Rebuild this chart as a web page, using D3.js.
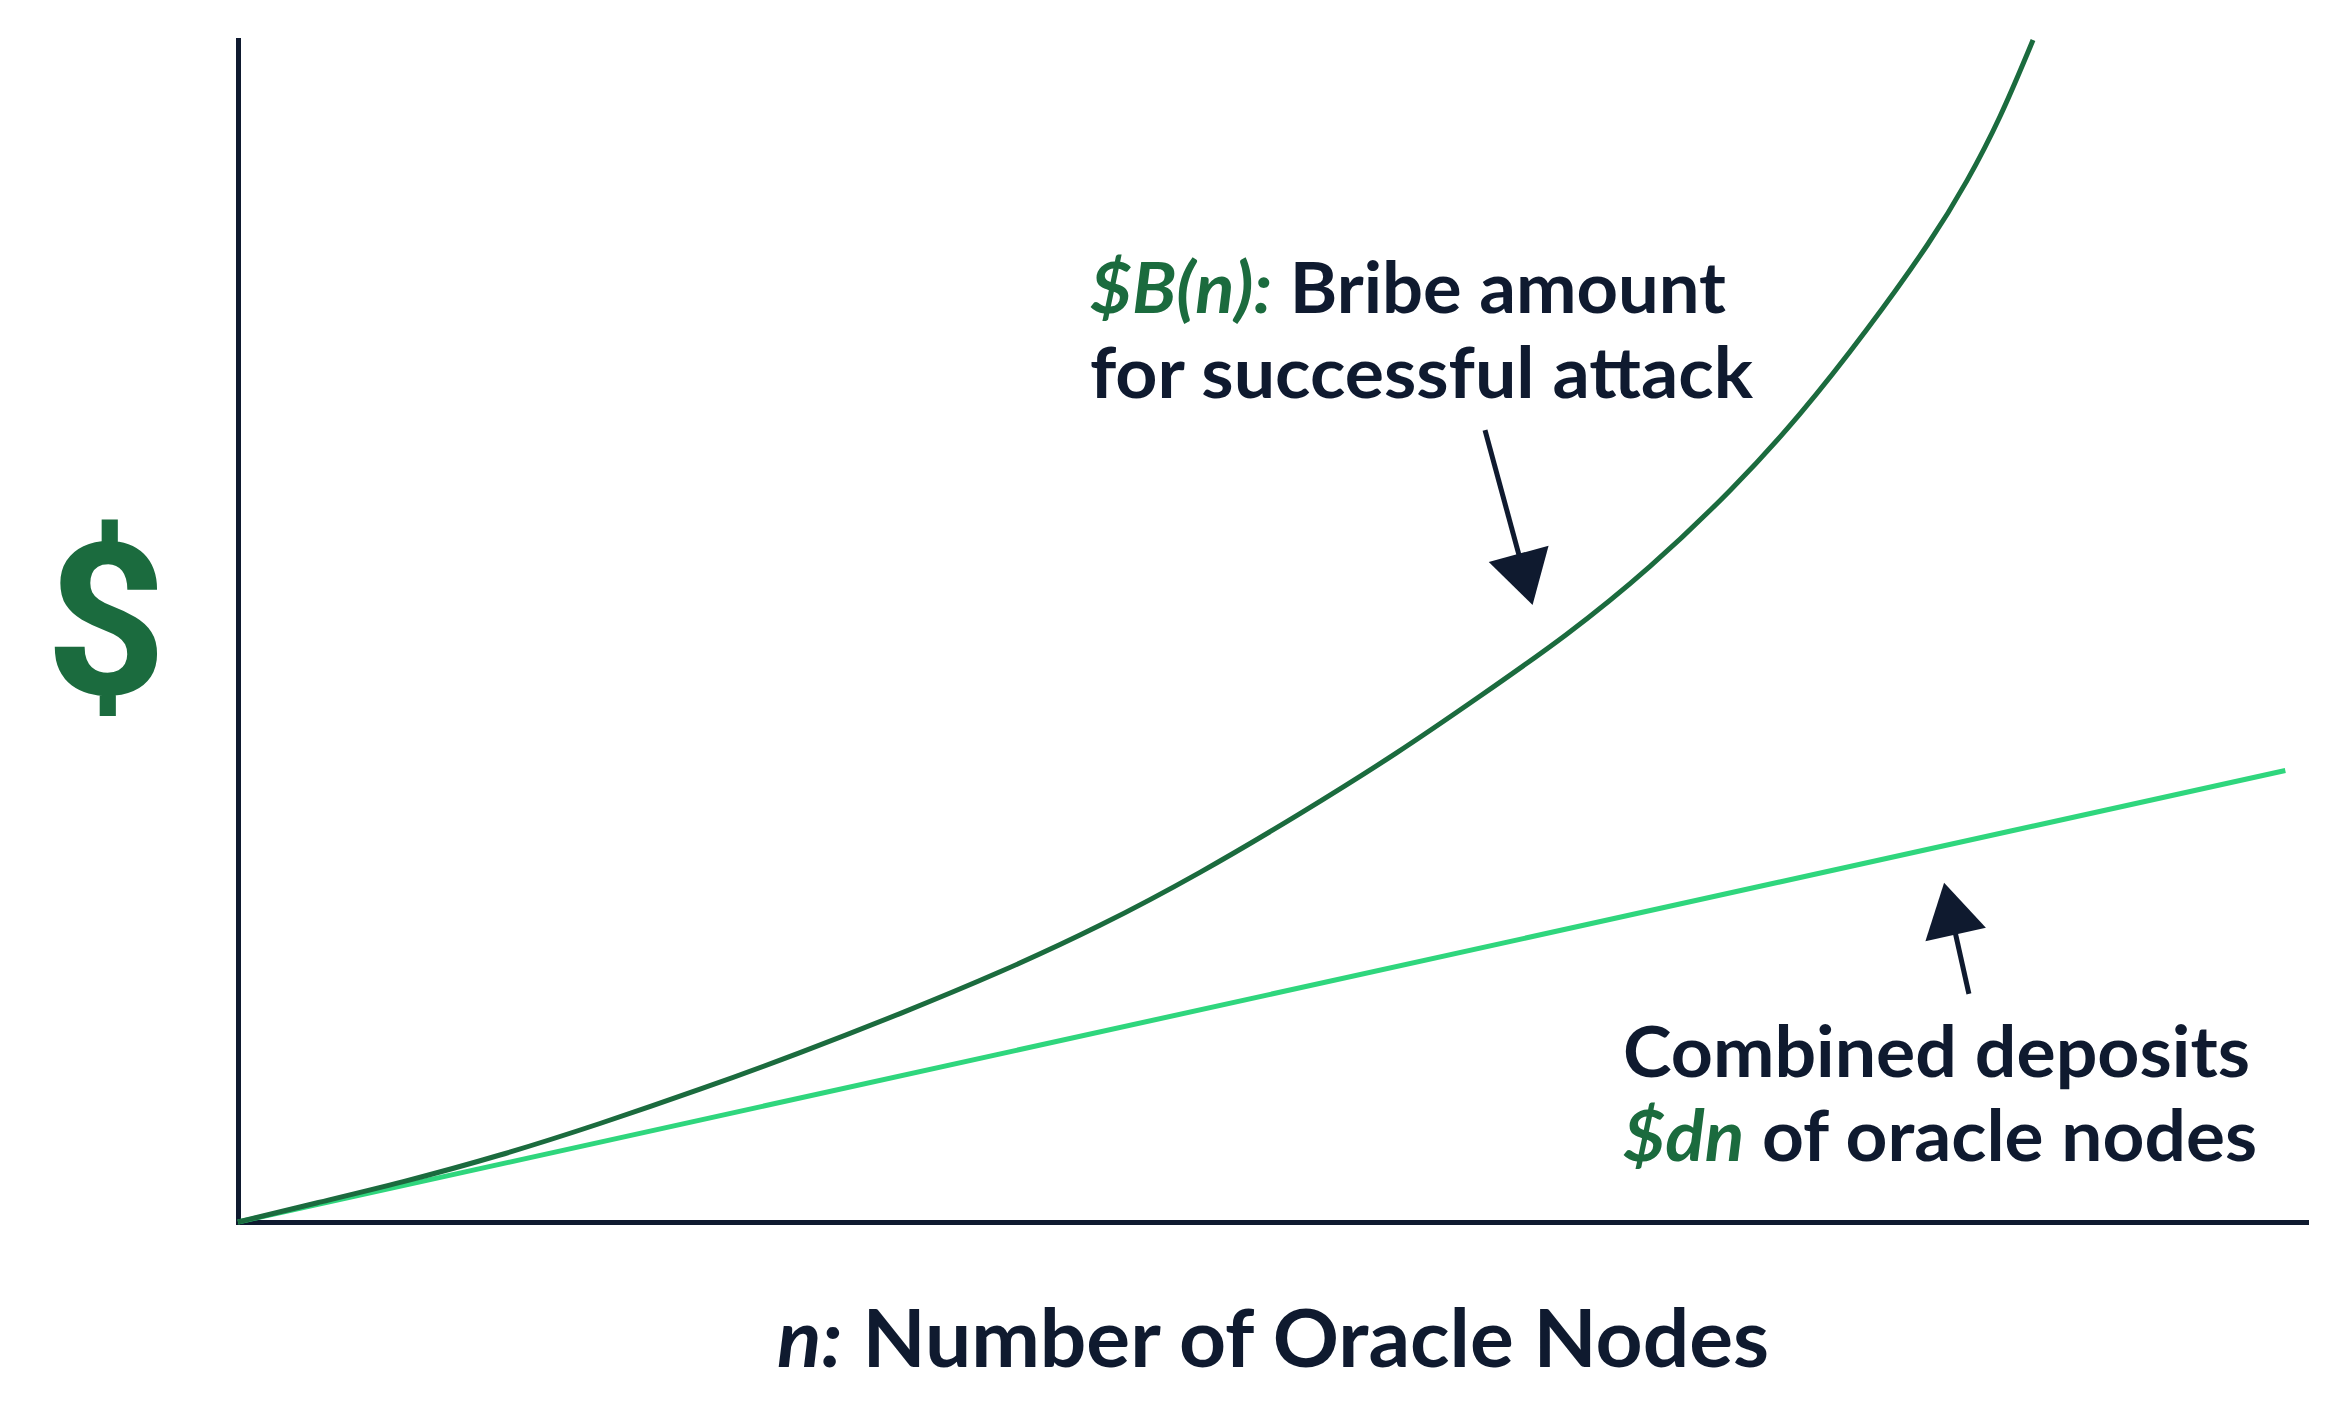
<!DOCTYPE html>
<html>
<head>
<meta charset="utf-8">
<script src="https://cdn.jsdelivr.net/npm/d3@7"></script>
<style>
  html, body { margin: 0; padding: 0; background: #ffffff; }
  svg { display: block; }
  text { font-family: "Lato", "Open Sans", sans-serif; }
</style>
</head>
<body>
<svg id="chart" width="2347" height="1425"></svg>
<script>
// ---- data (n = number of oracle nodes, values in arbitrary $ units) ----
const depositN      = [0, 99];
const depositValues = [0, 38.2];

const bribeN      = [0, 3.97, 7.83, 12.67, 17.5, 22.34, 27.18, 32.01, 36.85, 41.68, 46.52, 51.35, 56.19, 59.91, 64.26, 68.28, 72.29, 75.53, 78.77, 81.96, 83.61, 85.2, 86.8];
const bribeValues = [0, 1.69, 3.3, 5.6, 8.3, 11.2, 14.3, 17.6, 21.1, 25.0, 29.5, 34.5, 39.8, 44.3, 49.6, 55.3, 62.0, 68.2, 75.4, 83.2, 88.0, 93.3, 100];

const xDomain = [0, 100];
const yDomain = [0, 100];

// annotation arrows: [tailN, tailV, tipN, tipV]
const bribeArrow   = [60.3, 67.0, 62.6, 52.2];
const depositArrow = [83.7, 19.3, 82.5, 28.7];

const axisTitle = ["n:", " Number of Oracle Nodes"];

// ---- styling ----
const NAVY = "#0f1a2f";
const DARK = "#1b6b3e";
const LIGHT = "#2fd67d";

const svg = d3.select("#chart");
const x = d3.scaleLinear().domain(xDomain).range([238, 2306]);
const y = d3.scaleLinear().domain(yDomain).range([1222, 40]);

// axes (no ticks)
const xAxis = d3.axisBottom(x).ticks(0).tickSize(0).tickSizeOuter(0);
const yAxis = d3.axisLeft(y).ticks(0).tickSize(0).tickSizeOuter(0);
const gx = svg.append("g").attr("transform", `translate(0,${y(0)})`).call(xAxis);
const gy = svg.append("g").attr("transform", `translate(${x(0)},0)`).call(yAxis);
[gx, gy].forEach(g => g.select(".domain").attr("stroke", NAVY).attr("stroke-width", 5).attr("stroke-linecap", "square"));
gx.selectAll("text").remove();
gy.selectAll("text").remove();

// lines
svg.append("path")
  .datum(depositN.map((n, i) => [n, depositValues[i]]))
  .attr("d", d3.line().x(d => x(d[0])).y(d => y(d[1])))
  .attr("fill", "none").attr("stroke", LIGHT).attr("stroke-width", 5);

svg.append("path")
  .datum(bribeN.map((n, i) => [n, bribeValues[i]]))
  .attr("d", d3.line().x(d => x(d[0])).y(d => y(d[1])).curve(d3.curveBasis))
  .attr("fill", "none").attr("stroke", DARK).attr("stroke-width", 5);

// arrows
function arrow(a) {
  const x1 = x(a[0]), y1 = y(a[1]), x2 = x(a[2]), y2 = y(a[3]);
  const ang = Math.atan2(y2 - y1, x2 - x1);
  const L = 53, W = 31;
  const bx = x2 - L * Math.cos(ang), by = y2 - L * Math.sin(ang);
  svg.append("line")
    .attr("x1", x1).attr("y1", y1).attr("x2", bx + 6 * Math.cos(ang)).attr("y2", by + 6 * Math.sin(ang))
    .attr("stroke", NAVY).attr("stroke-width", 5);
  const px = -Math.sin(ang), py = Math.cos(ang);
  svg.append("polygon")
    .attr("points", [[x2, y2], [bx + W * px, by + W * py], [bx - W * px, by - W * py]].map(p => p.join(",")).join(" "))
    .attr("fill", NAVY);
}
arrow(bribeArrow);
arrow(depositArrow);

// big $ on y axis
svg.append("text")
  .attr("x", 106).attr("y", 694)
  .attr("text-anchor", "middle")
  .style("font-family", "Roboto, 'Open Sans', sans-serif")
  .attr("font-size", 212).attr("font-weight", 700)
  .attr("fill", DARK)
  .text("$");

// annotation helper
function label(xp, yp, parts, width, size) {
  const t = svg.append("text")
    .attr("x", xp).attr("y", yp)
    .attr("font-size", size).attr("font-weight", 700)
    .attr("fill", NAVY)
    .attr("textLength", width).attr("lengthAdjust", "spacingAndGlyphs");
  parts.forEach(p => {
    t.append("tspan")
      .attr("fill", p.green ? DARK : NAVY)
      .attr("font-style", p.italic ? "italic" : "normal")
      .text(p.t);
  });
}

label(1090, 313, [{t: "$B(n):", green: true, italic: true}, {t: " Bribe amount"}], 636, 70);
label(1090, 398, [{t: "for successful attack"}], 663, 70);
label(1623, 1077, [{t: "Combined deposits"}], 627, 70);
label(1623, 1161, [{t: "$dn", green: true, italic: true}, {t: " of oracle nodes"}], 634, 70);

label(777, 1367, [{t: axisTitle[0], italic: true}, {t: axisTitle[1]}], 992, 80);
</script>
</body>
</html>
